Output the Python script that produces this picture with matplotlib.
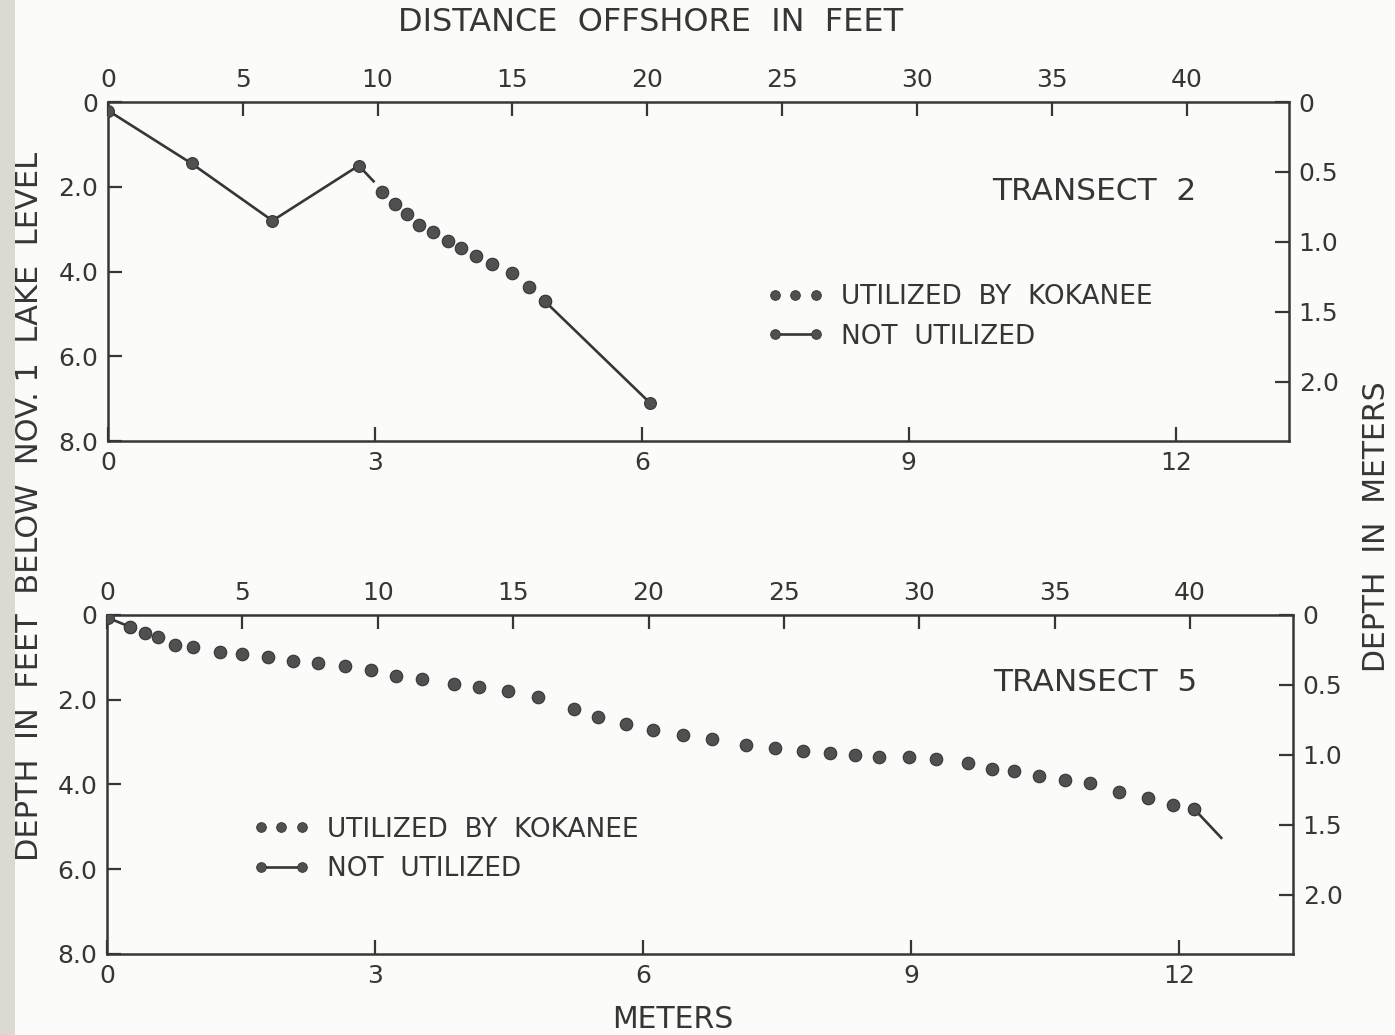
import matplotlib
matplotlib.use("Agg")
import matplotlib.pyplot as plt
from matplotlib.lines import Line2D
from matplotlib.legend_handler import HandlerLine2D
from matplotlib.patches import Rectangle

plt.rcParams['font.family'] = ['DejaVu Sans']

# ---------------- data (distance offshore in feet, depth in feet) ----------------
# Transect 2
t2_not_a_ft = [0.0, 3.1, 6.1, 9.3, 9.85]
t2_not_a_d = [0.2, 1.45, 2.8, 1.5, 1.87]
t2_util_ft = [10.15, 10.65, 11.1, 11.55, 12.05, 12.6, 13.1, 13.65, 14.25, 15.0, 15.6, 16.2]
t2_util_d = [2.12, 2.4, 2.64, 2.9, 3.06, 3.27, 3.44, 3.63, 3.82, 4.03, 4.36, 4.7]
t2_not_b_ft = [16.2, 20.1]
t2_not_b_d = [4.7, 7.1]

# Transect 5
t5_not_a_ft = [0.05, 0.85]
t5_not_a_d = [0.07, 0.28]
t5_util_ft = [0.85, 1.40, 1.89, 2.51, 3.18, 4.18, 4.99, 5.95, 6.88, 7.80, 8.80, 9.76,
              10.68, 11.65, 12.83, 13.72, 14.82, 15.93, 17.23, 18.15, 19.15, 20.15,
              21.29, 22.33, 23.59, 24.66, 25.69, 26.69, 27.62, 28.50, 29.61, 30.61,
              31.79, 32.68, 33.49, 34.42, 35.38, 36.30, 37.38, 38.45, 39.37, 40.15]
t5_util_d = [0.28, 0.42, 0.52, 0.71, 0.75, 0.87, 0.92, 0.99, 1.08, 1.13, 1.20, 1.30,
             1.44, 1.51, 1.63, 1.70, 1.79, 1.93, 2.22, 2.41, 2.57, 2.71,
             2.83, 2.92, 3.07, 3.14, 3.21, 3.25, 3.30, 3.35, 3.35, 3.40,
             3.49, 3.63, 3.68, 3.80, 3.89, 3.96, 4.17, 4.32, 4.48, 4.58]
t5_not_b_ft = [40.15, 41.15]
t5_not_b_d = [4.58, 5.26]

feet_ticks = [0, 5, 10, 15, 20, 25, 30, 35, 40]
meter_ticks = [0, 3, 6, 9, 12]
depth_ft_ticks = [0, 2, 4, 6, 8]
depth_ft_labels = ["0", "2.0", "4.0", "6.0", "8.0"]
depth_m_ticks = [0, 0.5, 1.0, 1.5, 2.0]
depth_m_labels = ["0", "0.5", "1.0", "1.5", "2.0"]
FT_PER_M = 3.3  # scale as drawn on the original figure

INK = '#363636'
DOT = '#505050'
FS_TICK = 18
FS_LEG = 19
FS_TR = 22.5

fig = plt.figure(figsize=(13.95, 10.35), dpi=100)
fig.patch.set_facecolor('#fbfbf9')
fig.patches.append(Rectangle((0, 0), 0.011, 1, transform=fig.transFigure,
                             facecolor='#dcd9d3', edgecolor='none', zorder=-10))

def ft2m(x):
    return x / FT_PER_M

def m2ft(x):
    return x * FT_PER_M

def setup(ax):
    ax.set_facecolor('none')
    ax.set_xlim(0, 43.8)
    ax.set_ylim(8, 0)
    for s in ax.spines.values():
        s.set_color(INK)
        s.set_linewidth(1.8)
    ax.xaxis.tick_top()
    ax.set_xticks(feet_ticks)
    ax.set_xticklabels([str(v) for v in feet_ticks])
    ax.tick_params(axis='x', which='both', direction='in', length=10, width=1.6,
                   colors=INK, labelsize=FS_TICK, pad=7, top=True, bottom=False)
    ax.set_yticks(depth_ft_ticks)
    ax.set_yticklabels(depth_ft_labels)
    ax.tick_params(axis='y', direction='in', length=10, width=1.6, colors=INK,
                   labelsize=FS_TICK, pad=7, left=True, right=False)
    secx = ax.secondary_xaxis('bottom', functions=(ft2m, m2ft))
    secx.set_xticks(meter_ticks)
    secx.set_xticklabels([str(v) for v in meter_ticks])
    secx.tick_params(direction='in', length=10, width=1.6, colors=INK,
                     labelsize=FS_TICK, pad=7)
    secx.spines['bottom'].set_visible(False)
    secy = ax.secondary_yaxis('right', functions=(ft2m, m2ft))
    secy.set_yticks(depth_m_ticks)
    secy.set_yticklabels(depth_m_labels)
    secy.tick_params(direction='in', length=10, width=1.6, colors=INK,
                     labelsize=FS_TICK, pad=7)
    secy.spines['right'].set_visible(False)

def draw(ax, na_ft, na_d, na_mark, u_ft, u_d, nb_ft, nb_d, nb_mark):
    ax.plot(na_ft, na_d, color=INK, lw=1.9, marker='o', ms=8.5, mfc=DOT, mec=INK,
            mew=0.8, markevery=na_mark, zorder=3)
    ax.plot(nb_ft, nb_d, color=INK, lw=1.9, marker='o', ms=8.5, mfc=DOT, mec=INK,
            mew=0.8, markevery=nb_mark, zorder=3)
    ax.plot(u_ft, u_d, ls='none', marker='o', ms=9, mfc=DOT, mec=INK, mew=0.8, zorder=4)

def legend(ax, anchor):
    h1 = Line2D([], [], ls='none', marker='o', ms=7, mfc=DOT, mec=INK, mew=0.6)
    h2 = Line2D([], [], color=INK, lw=1.9, marker='o', ms=7, mfc=DOT, mec=INK, mew=0.6)
    leg = ax.legend([h1, h2], ["UTILIZED  BY  KOKANEE", "NOT  UTILIZED"],
                    loc='upper left', bbox_to_anchor=anchor, frameon=False,
                    numpoints=3, handlelength=2.15, handletextpad=0.65,
                    labelspacing=0.5, borderpad=0, borderaxespad=0,
                    prop={'size': FS_LEG}, labelcolor=INK,
                    handler_map={h2: HandlerLine2D(numpoints=2)})
    return leg

ax1 = fig.add_axes([0.0774, 0.5739, 0.8466, 0.3275])
setup(ax1)
draw(ax1, t2_not_a_ft, t2_not_a_d, [0, 1, 2, 3], t2_util_ft, t2_util_d,
     t2_not_b_ft, t2_not_b_d, [0, 1])
ax1.text(0.749, 0.736, "TRANSECT  2", transform=ax1.transAxes, fontsize=FS_TR,
         color=INK, ha='left', va='center')
legend(ax1, (0.558, 0.462))

ax2 = fig.add_axes([0.0767, 0.0783, 0.8502, 0.3275])
setup(ax2)
draw(ax2, t5_not_a_ft, t5_not_a_d, [0, 1], t5_util_ft, t5_util_d,
     t5_not_b_ft, t5_not_b_d, [0])
ax2.text(0.747, 0.80, "TRANSECT  5", transform=ax2.transAxes, fontsize=FS_TR,
         color=INK, ha='left', va='center')
legend(ax2, (0.123, 0.405))

fig.text(0.466, 0.978, "DISTANCE  OFFSHORE  IN  FEET", fontsize=23, color=INK,
         ha='center', va='center')
fig.text(0.482, 0.0145, "METERS", fontsize=21.5, color=INK, ha='center', va='center')
fig.text(0.0215, 0.511, "DEPTH  IN  FEET  BELOW  NOV. 1  LAKE  LEVEL", fontsize=22,
         color=INK, ha='center', va='center', rotation=90)
fig.text(0.9865, 0.491, "DEPTH  IN  METERS", fontsize=21.5, color=INK,
         ha='center', va='center', rotation=90)

fig.savefig("out.png", dpi=100, facecolor=fig.get_facecolor())
